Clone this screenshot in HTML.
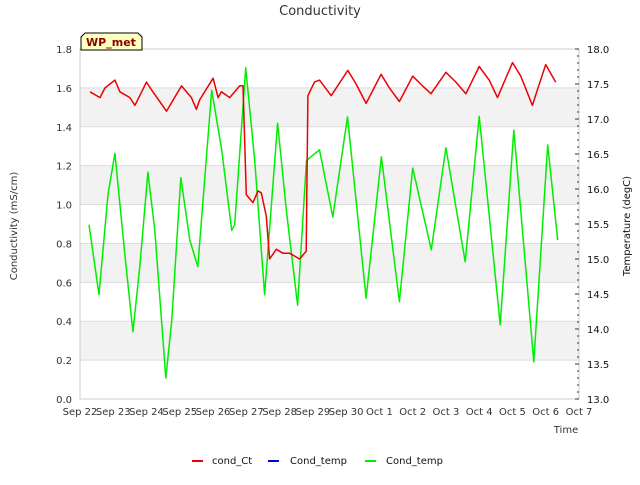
<!DOCTYPE html>
<html><head><meta charset="utf-8"><style>
body{margin:0;background:#fff;font-family:"Liberation Sans","DejaVu Sans",sans-serif}
svg text{font-family:"DejaVu Sans","Liberation Sans",sans-serif}
</style></head><body>
<svg id="c" width="640" height="480" xmlns="http://www.w3.org/2000/svg"></svg>
<script>
const xTickLabels=["Sep 22","Sep 23","Sep 24","Sep 25","Sep 26","Sep 27","Sep 28","Sep 29","Sep 30","Oct 1","Oct 2","Oct 3","Oct 4","Oct 5","Oct 6","Oct 7"];
const leftTicks=[0,0.2,0.4,0.6,0.8,1.0,1.2,1.4,1.6,1.8];
const rightTicks=[13,13.5,14,14.5,15,15.5,16,16.5,17,17.5,18];
const condT=[0.3,0.6,0.75,1.05,1.2,1.5,1.65,2.0,2.15,2.6,3.05,3.35,3.5,3.6,4.0,4.15,4.25,4.5,4.8,4.9,5.0,5.2,5.35,5.45,5.6,5.7,5.9,6.1,6.3,6.6,6.8,6.85,7.05,7.2,7.55,8.05,8.3,8.6,9.05,9.3,9.6,10.0,10.3,10.55,11.0,11.3,11.6,12.0,12.3,12.55,13.0,13.25,13.6,13.75,14.0,14.3];
const condV=[1.58,1.55,1.60,1.64,1.58,1.55,1.51,1.63,1.59,1.48,1.61,1.55,1.49,1.54,1.65,1.55,1.58,1.55,1.61,1.61,1.05,1.01,1.07,1.06,0.94,0.72,0.77,0.75,0.75,0.72,0.76,1.56,1.63,1.64,1.56,1.69,1.62,1.52,1.67,1.60,1.53,1.66,1.61,1.57,1.68,1.63,1.57,1.71,1.64,1.55,1.73,1.66,1.51,1.59,1.72,1.63];
const tempT=[0.27,0.57,0.84,1.05,1.32,1.59,1.8,2.04,2.25,2.58,2.76,3.03,3.3,3.54,3.96,4.26,4.56,4.65,4.98,5.25,5.55,5.94,6.2,6.54,6.81,7.2,7.6,8.04,8.6,9.06,9.6,10.0,10.56,11.0,11.58,12.0,12.63,13.04,13.64,14.06,14.36];
const tempV=[15.49,14.49,15.91,16.51,15.2,13.96,14.91,16.24,15.41,13.3,14.13,16.16,15.27,14.89,17.41,16.56,15.41,15.49,17.73,16.41,14.49,16.94,15.7,14.34,16.41,16.56,15.6,17.03,14.44,16.46,14.39,16.3,15.13,16.59,14.96,17.04,14.06,16.84,13.53,16.63,15.27];
const X0=80,X1=579,Y0=399,Y1=49;
const xs=t=>X0+t*(X1-X0)/15;
const yl=v=>Y0-v*(Y0-Y1)/1.8;
const yr=v=>Y0-(v-13)*(Y0-Y1)/5;
const svg=document.getElementById('c');
const NS="http://www.w3.org/2000/svg";
function mk(tag,a,txt){const e=document.createElementNS(NS,tag);for(const k in a)e.setAttribute(k,a[k]);if(txt!==undefined)e.textContent=txt;svg.appendChild(e);return e;}
for(let i=0;i<leftTicks.length-1;i++){ if(i%2===1){
 const r=mk('rect',{x:X0,y:yl(leftTicks[i+1]),width:X1-X0,height:yl(leftTicks[i])-yl(leftTicks[i+1]),fill:'#f2f2f2'});
 
 }}
leftTicks.forEach(v=>{
 const l=mk('line',{x1:X0,x2:X1,y1:yl(v),y2:yl(v),stroke:'#dcdcdc','stroke-width':1});
 
 
 const t=mk('text',{x:X0-8,y:yl(v)+4,'text-anchor':'end','font-size':10,fill:'#333'},v.toFixed(1));
 
 
});
const ax=mk('rect',{x:X0,y:Y1,width:X1-X0,height:Y0-Y1,fill:'none',stroke:'#ccc'});


rightTicks.forEach((v,i)=>{
 const t=mk('text',{x:X1+8,y:yr(v)+4,'font-size':10,fill:'#111'},v.toFixed(1));
 
 
 mk('line',{x1:X1-4,x2:X1,y1:yr(v),y2:yr(v),stroke:'#333'});
 if(i<rightTicks.length-1)for(let k=1;k<5;k++){const yy=yr(v+k*0.1);mk('line',{x1:X1-2,x2:X1,y1:yy,y2:yy,stroke:'#333'});}
});
xTickLabels.forEach((s,i)=>{
 const t=mk('text',{x:xs(i),y:Y0+16,'text-anchor':'middle','font-size':10,fill:'#333'},s);
 
 
});
function path(T,V,f,col,name){
 const d=T.map((t,i)=>(i?'L':'M')+xs(t).toFixed(1)+','+f(V[i]).toFixed(1)).join('');
 const p=mk('path',{d:d,fill:'none',stroke:col,'stroke-width':1.5,'stroke-linejoin':'round'});
 
 
}
path(tempT,tempV,yr,'#00ee00','cond-temp-line');
path(condT,condV,yl,'#ee0000','cond-ct-line');
</script>
<svg style="position:absolute;left:0;top:0" width="640" height="480" xmlns="http://www.w3.org/2000/svg">
<text x="320" y="15" text-anchor="middle" font-size="13" fill="#333">Conductivity</text>
<text x="566" y="433" text-anchor="middle" font-size="10" fill="#333">Time</text>
<text x="17" y="226" text-anchor="middle" font-size="10" fill="#333" transform="rotate(-90 17 226)">Conductivity (mS/cm)</text>
<text x="630" y="226" text-anchor="middle" font-size="10" fill="#111" transform="rotate(-90 630 226)">Temperature (degC)</text>
<g><path d="M81,50 L81,37 L85,33 L138,33 L142,37 L142,50 Z" fill="#ffffc0" stroke="#000"/><text x="111" y="46" text-anchor="middle" font-size="11" font-weight="bold" fill="#8b0000">WP_met</text></g>
<g>
<line x1="192" y1="461" x2="203" y2="461" stroke="#ee0000" stroke-width="2"/><text x="212" y="464" font-size="10" fill="#111">cond_Ct</text>
<line x1="268" y1="461" x2="279" y2="461" stroke="#0000dd" stroke-width="2"/><text x="290" y="464" font-size="10" fill="#111">Cond_temp</text>
<line x1="365" y1="461" x2="376" y2="461" stroke="#00ee00" stroke-width="2"/><text x="386" y="464" font-size="10" fill="#111">Cond_temp</text>
</g>
</svg>
</body></html>
